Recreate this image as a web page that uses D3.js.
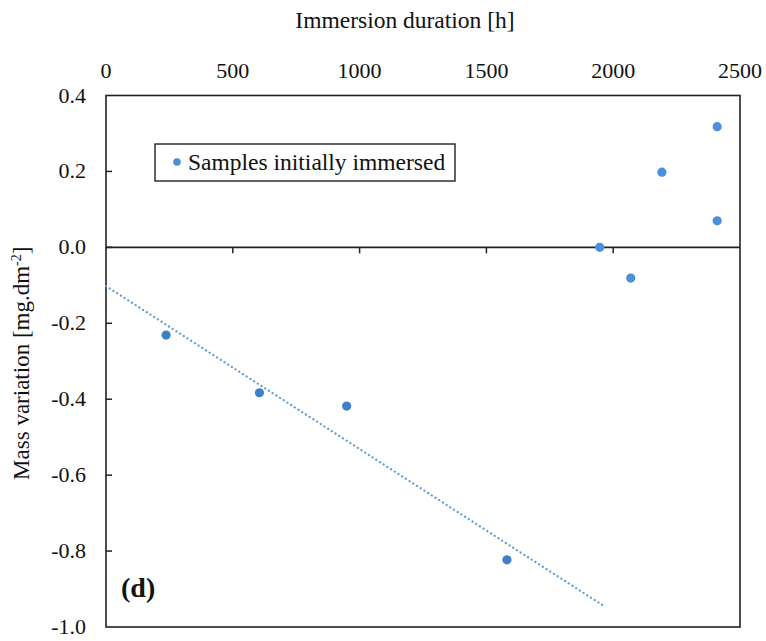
<!DOCTYPE html>
<html>
<head>
<meta charset="utf-8">
<script src="https://cdn.jsdelivr.net/npm/d3@7"></script>
<style>
  body { margin: 0; background: #fff; }
  #chart text { font-family: "Liberation Serif", "Times New Roman", Times, serif; }
</style>
</head>
<body>
<svg id="chart" width="766" height="641"></svg>
<script>
// samples on the decreasing branch (used for the linear trendline)
const fitHours = [237, 605, 949, 1581];
const fitMass = [-0.231, -0.383, -0.418, -0.823];
// later samples
const lateHours = [1947, 2069, 2192, 2410, 2410];
const lateMass = [0.0, -0.081, 0.198, 0.318, 0.070];

const xTicks = [0, 500, 1000, 1500, 2000, 2500];
const yTicks = [0.4, 0.2, 0.0, -0.2, -0.4, -0.6, -0.8, -1.0];
const trendEnd = 1965;

const svg = d3.select('#chart');
const margin = { left: 106, right: 26, top: 95.5, bottom: 14 };
const W = 766, H = 641;

const x = d3.scaleLinear().domain([0, 2500]).range([margin.left, W - margin.right]);
const y = d3.scaleLinear().domain([-1.0, 0.4]).range([H - margin.bottom, margin.top]);
const fmt = d => d.toFixed(1).replace('-0.0', '0.0');

// plot frame
svg.append('rect')
  .attr('x', x(0)).attr('y', y(0.4))
  .attr('width', x(2500) - x(0)).attr('height', y(-1.0) - y(0.4))
  .attr('fill', 'none').attr('stroke', '#222').attr('stroke-width', 1.6);

// y axis ticks, inside
svg.selectAll('.ytick').data(yTicks.slice(1, -1)).join('line')
  .attr('x1', x(0)).attr('x2', x(0) + 6)
  .attr('y1', d => y(d)).attr('y2', d => y(d))
  .attr('stroke', '#222').attr('stroke-width', 1.5);

svg.selectAll('.ylab').data(yTicks).join('text')
  .attr('x', x(0) - 20).attr('y', d => y(d) + 7)
  .attr('text-anchor', 'end').attr('font-size', 22).attr('fill', '#111')
  .text(fmt);

// horizontal axis line at zero with ticks below
svg.append('line')
  .attr('x1', x(0)).attr('x2', x(2500))
  .attr('y1', y(0)).attr('y2', y(0))
  .attr('stroke', '#222').attr('stroke-width', 1.6);
svg.selectAll('.xtick').data(xTicks.slice(1, -1)).join('line')
  .attr('x1', d => x(d)).attr('x2', d => x(d))
  .attr('y1', y(0)).attr('y2', y(0) + 6)
  .attr('stroke', '#222').attr('stroke-width', 1.5);

// x tick labels on top
svg.selectAll('.xlab').data(xTicks).join('text')
  .attr('x', d => x(d)).attr('y', 78)
  .attr('text-anchor', 'middle').attr('font-size', 22).attr('fill', '#111')
  .text(d => d);

svg.append('text')
  .attr('x', 405).attr('y', 28)
  .attr('text-anchor', 'middle').attr('font-size', 23.5).attr('fill', '#111')
  .text('Immersion duration [h]');

// y axis title
const yt = svg.append('text')
  .attr('transform', `translate(29, ${(y(0.4) + y(-1.0)) / 2 + 2}) rotate(-90)`)
  .attr('text-anchor', 'middle').attr('font-size', 23).attr('fill', '#111');
yt.append('tspan').text('Mass variation  [mg.dm');
yt.append('tspan').attr('font-size', 14).attr('dy', -8).text('-2');
yt.append('tspan').attr('dy', 8).text(']');

// linear trendline through the decreasing branch
const mx = d3.mean(fitHours), my = d3.mean(fitMass);
const slope = d3.sum(fitHours, (h, i) => (h - mx) * (fitMass[i] - my)) /
  d3.sum(fitHours, h => (h - mx) ** 2);
const icpt = my - slope * mx;
svg.append('line')
  .attr('x1', x(0)).attr('y1', y(icpt))
  .attr('x2', x(trendEnd)).attr('y2', y(icpt + slope * trendEnd))
  .attr('stroke', '#5b9bd5').attr('stroke-width', 2.2)
  .attr('stroke-dasharray', '0.1 4.3').attr('stroke-linecap', 'round');

// points
svg.selectAll('.fit').data(fitHours).join('circle')
  .attr('cx', d => x(d)).attr('cy', (d, i) => y(fitMass[i]))
  .attr('r', 4.6).attr('fill', '#3f7fc6');
svg.selectAll('.late').data(lateHours).join('circle')
  .attr('cx', d => x(d)).attr('cy', (d, i) => y(lateMass[i]))
  .attr('r', 4.6).attr('fill', '#4a90dc');

// legend
svg.append('rect')
  .attr('x', 155).attr('y', 144).attr('width', 300).attr('height', 37)
  .attr('fill', '#fff').attr('stroke', '#222').attr('stroke-width', 1.4);
svg.append('circle').attr('cx', 177).attr('cy', 162).attr('r', 3.8).attr('fill', '#4a8fd2');
svg.append('text').attr('x', 188).attr('y', 170).attr('font-size', 23.5).attr('fill', '#111')
  .text('Samples initially immersed');

svg.append('text')
  .attr('x', 121).attr('y', 597).attr('font-size', 28).attr('font-weight', 'bold').attr('fill', '#111')
  .text('(d)');
</script>
</body>
</html>
